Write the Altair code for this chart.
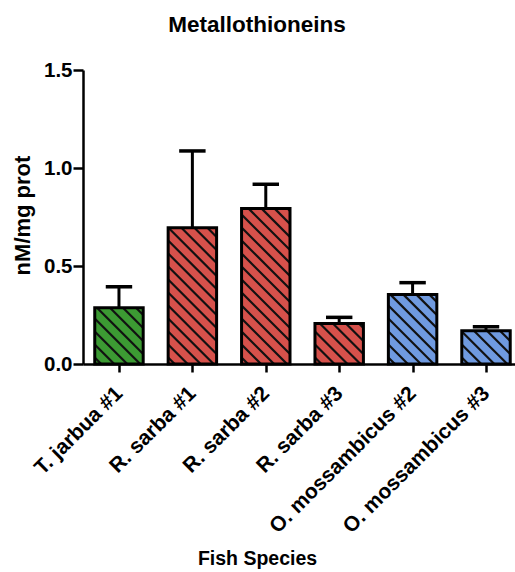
import json
import numpy as np
import pandas as pd
import altair as alt

# Metallothionein levels per fish sample (mean and SEM, nM/mg protein)
samples = ["T. jarbua #1", "R. sarba #1", "R. sarba #2", "R. sarba #3",
           "O. mossambicus #2", "O. mossambicus #3"]
species = ["T. jarbua", "R. sarba", "R. sarba", "R. sarba",
           "O. mossambicus", "O. mossambicus"]
means = [0.287, 0.695, 0.794, 0.207, 0.354, 0.170]
sems = [0.107, 0.392, 0.123, 0.031, 0.061, 0.020]

species_order = ["T. jarbua", "R. sarba", "O. mossambicus"]
species_colors = ["#3c9a33", "#d6514b", "#6f9ae0"]

FONT = "Liberation Sans"

# plot geometry
W, H = 432, 294
X_DOMAIN = [-0.49, 5.395]
Y_DOMAIN = [0, 1.5]
HALF = 0.33          # half bar width, in category units
CAP = 0.18           # half cap width
px_x = W / (X_DOMAIN[1] - X_DOMAIN[0])
px_y = H / (Y_DOMAIN[1] - Y_DOMAIN[0])

idx = list(range(len(samples)))
bars = pd.DataFrame({
    "idx": idx,
    "sample": samples,
    "species": species,
    "mean": means,
    "sem": sems,
})
bars["x0"] = bars["idx"] - HALF
bars["x1"] = bars["idx"] + HALF
bars["upper"] = bars["mean"] + bars["sem"]
bars["c0"] = bars["idx"] - CAP
bars["c1"] = bars["idx"] + CAP

# diagonal hatching ("\\" direction) clipped to each bar
spacing = 13.0
rows = []
for i, m in zip(idx, means):
    w = 2 * HALF * px_x
    h = m * px_y
    c = spacing / 2
    while c < w + h:
        u0, u1 = max(0.0, c - h), min(w, c)
        rows.append({
            "hx0": i - HALF + u0 / px_x,
            "hy0": (c - u0) / px_y,
            "hx1": i - HALF + u1 / px_x,
            "hy1": (c - u1) / px_y,
        })
        c += spacing
hatch = pd.DataFrame(rows)

label_expr = json.dumps(samples) + "[datum.value]"

x_scale = alt.Scale(domain=X_DOMAIN, nice=False, zero=False)
y_scale = alt.Scale(domain=Y_DOMAIN, nice=False)

x_axis = alt.Axis(
    values=idx, labelExpr=label_expr, title="Fish Species",
    labelAngle=-45, labelAlign="right", labelBaseline="middle",
    labelFont=FONT, labelFontWeight="bold", labelFontSize=21, labelColor="black",
    labelPadding=18, labelOverlap=False, labelLimit=400,
    titleFont=FONT, titleFontWeight="bold", titleFontSize=19.5, titleColor="black",
    titleX=174, titleY=200, titleAlign="center", titleBaseline="alphabetic",
    domainColor="black", domainWidth=2.5, tickColor="black", tickWidth=2.5,
    tickSize=8, grid=False,
)
y_axis = alt.Axis(
    values=[0, 0.5, 1.0, 1.5], format=".1f", title="nM/mg prot",
    labelFont=FONT, labelFontWeight="bold", labelFontSize=20.5, labelColor="black",
    labelPadding=1,
    titleFont=FONT, titleFontWeight="bold", titleFontSize=22, titleColor="black",
    titleX=-61, titleY=145, titleAngle=270, titleAlign="center",
    titleBaseline="middle",
    domainColor="black", domainWidth=2.5, tickColor="black", tickWidth=2.5,
    tickSize=10, grid=False,
)

base = alt.Chart(bars)

fill = base.mark_rect().encode(
    x=alt.X("x0:Q", scale=x_scale, axis=x_axis),
    x2="x1:Q",
    y=alt.Y("mean:Q", scale=y_scale, axis=y_axis),
    y2=alt.datum(0),
    color=alt.Color("species:N", scale=alt.Scale(domain=species_order,
                                                 range=species_colors),
                    legend=None),
)

lines = alt.Chart(hatch).mark_rule(color="#111111", strokeWidth=2.2).encode(
    x="hx0:Q", x2="hx1:Q", y="hy0:Q", y2="hy1:Q",
)

outline = base.mark_rect(fill=None, stroke="black", strokeWidth=3).encode(
    x="x0:Q", x2="x1:Q", y="mean:Q", y2=alt.datum(0),
)

stem = base.mark_rule(color="black", strokeWidth=3).encode(
    x="idx:Q", y="mean:Q", y2="upper:Q",
)

cap = base.mark_rule(color="black", strokeWidth=3.5).encode(
    x="c0:Q", x2="c1:Q", y="upper:Q",
)

chart = alt.layer(fill, lines, stem, cap, outline).properties(
    width=W, height=H,
    title=alt.TitleParams(
        "Metallothioneins", font=FONT, fontSize=22.5, fontWeight="bold",
        color="black", anchor="middle", frame="group", dx=-42, offset=6,
        baseline="alphabetic",
    ),
    autosize=alt.AutoSizeParams(type="none"),
    padding={"left": 83, "top": 70, "right": 0, "bottom": 208},
    background="white",
).configure_view(stroke=None)

chart.save("out.html", embed_options={"renderer": "svg", "actions": False})
